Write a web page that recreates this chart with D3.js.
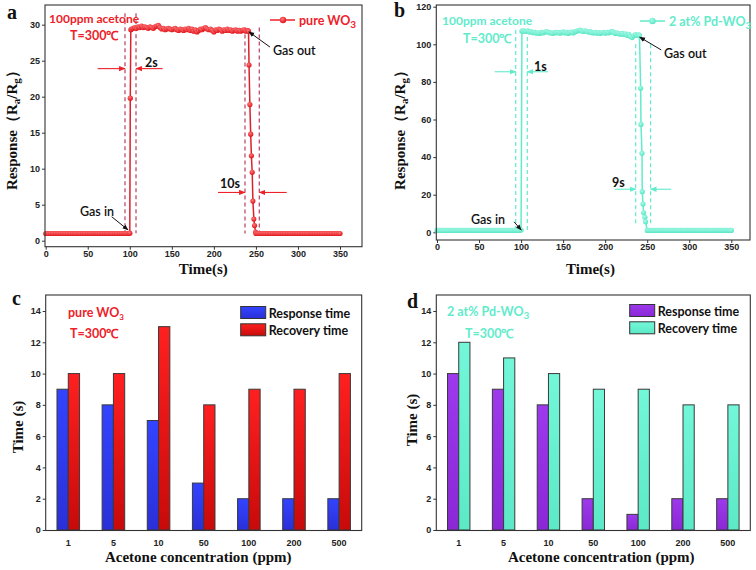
<!DOCTYPE html>
<html><head><meta charset="utf-8">
<script src="https://cdn.jsdelivr.net/npm/d3@7"></script>
<style>body{margin:0;background:#fff}svg{display:block}</style>
</head><body>
<svg id="chart" width="756" height="570"></svg>
<script>
// ---------------- DATA ----------------
const timeBefore = [0,2,4,6,8,10,12,14,16,18,20,22,24,26,28,30,32,34,36,38,40,42,44,46,48,50,52,54,56,58,60,62,64,66,68,70,72,74,76,78,80,82,84,86,88,90,92,94,96,98,100];
const timePlateau = [102,104,106,108,110,112,114,116,118,120,122,124,126,128,130,132,134,136,138,140,142,144,146,148,150,152,154,156,158,160,162,164,166,168,170,172,174,176,178,180,182,184,186,188,190,192,194,196,198,200,202,204,206,208,210,212,214,216,218,220,222,224,226,228,230,232,234,236,238,240];
const timeAfter = [250,252,254,256,258,260,262,264,266,268,270,272,274,276,278,280,282,284,286,288,290,292,294,296,298,300,302,304,306,308,310,312,314,316,318,320,322,324,326,328,330,332,334,336,338,340,342,344,346,348,350];

// panel a: pure WO3
const aBefore = [1,1,1,1,1,1,1,1,1,1,1,1,1,1,1,1,1,1,1,1,1,1,1,1,1,1,1,1,1,1,1,1,1,1,1,1,1,1,1,1,1,1,1,1,1,1,1,1,1,1,1.05];
const aRiseTime = [100.6,101.2];
const aRise = [19.8,29.3];
const aPlateau = [29.4,29.5,29.6,29.5,29.7,29.6,29.8,29.6,29.7,29.6,
  29.5,29.7,29.6,29.5,29.7,29.8,29.9,29.6,29.4,29.5,
  29.3,29.4,29.5,29.4,29.3,29.4,29.5,29.3,29.2,29.4,
  29.3,29.2,29.4,29.3,29.5,29.2,29.4,29.1,29.3,29.0,
  29.2,29.4,29.3,29.5,29.6,29.4,29.3,29.4,29.2,29.0,
  29.3,29.2,29.4,29.3,29.1,29.3,29.2,29.4,29.2,29.3,
  29.1,29.2,29.3,29.1,29.2,29.1,29.2,29.3,29.1,29.2];
const aRecoveryTime = [241.2,241.8,242.8,243.8,244.6,245.6,246.4,247.6,248.4,249.6];
const aRecovery = [29.1,24.4,18.9,14.8,11.8,9.5,5.5,3.0,2.1,1.2];
const aAfter = [1,1,1,1,1,1,1,1,1,1,1,1,1,1,1,1,1,1,1,1,1,1,1,1,1,1,1,1,1,1,1,1,1,1,1,1,1,1,1,1,1,1,1,1,1,1,1,1,1,1,1];

// panel b: 2 at% Pd-WO3
const bBefore = [1,1,1,1,1,1,1,1,1,1,1,1,1,1,1,1,1,1,1,1,1,1,1,1,1,1,1,1,1,1,1,1,1,1,1,1,1,1,1,1,1,1,1,1,1,1,1,1,1,1,1.2];
const bRiseTime = [101.0];
const bRise = [107.0];
const bPlateau = [107.2,107.0,106.8,107.1,106.5,106.8,106.2,106.4,105.9,106.1,
  105.8,106.3,106.0,106.4,106.8,106.5,106.2,106.0,105.8,106.3,
  106.1,106.4,105.9,106.2,106.6,106.0,106.3,105.8,106.2,106.5,
  106.0,106.7,106.9,107.3,107.6,107.1,106.8,107.2,106.9,106.5,
  106.8,106.2,106.0,106.4,105.9,106.2,105.8,106.1,106.3,105.9,
  106.4,106.0,106.5,106.9,106.3,105.8,106.1,105.6,105.4,105.8,
  105.2,105.6,104.8,105.3,104.2,103.6,104.5,105.1,104.8,105.0];
const bRecoveryTime = [240.8,242.2,242.6,243.8,244.1,245.0,245.8,247.3,248.1];
const bRecovery = [104.6,76.6,57.4,42.0,21.6,15.0,10.4,8.0,5.6];
const bAfter = [1,1,1,1,1,1,1,1,1,1,1,1,1,1,1,1,1,1,1,1,1,1,1,1,1,1,1,1,1,1,1,1,1,1,1,1,1,1,1,1,1,1,1,1,1,1,1,1,1,1,1];

// tick labels
const timeTicks = [0,50,100,150,200,250,300,350];
const aYTicks = [0,5,10,15,20,25,30];
const bYTicks = [0,20,40,60,80,100,120];
const barYTicks = [0,2,4,6,8,10,12,14];

// annotations (time s, response)
const aDashTimes = [94.3,107.4,237.0,254.0];
const aDashTop = [31.6,31.6,29.6,29.6];
const aDashBottom = [1.05,1.05,1.0,1.0];
const bDashTimes = [93.6,107.4,236.3,254.0];
const bDashTop = [107.6,107.6,100,100];
const bDashBottom = [1.2,1.2,4,4];

// bar panels
const concentrations = ["1","5","10","50","100","200","500"];
const cResponse = [9,8,7,3,2,2,2];
const cRecovery = [10,10,13,8,9,9,10];
const dResponse = [10,9,8,2,1,2,2];
const dRecovery = [12,11,10,9,9,8,8];

// ---------------- DRAW ----------------
const svg = d3.select("#chart");
const RED = "#ee2128", CYAN = "#62ebcb";
const TICKFONT = "'Liberation Sans', Arial, sans-serif";
const SERIF = "'Liberation Serif', 'Times New Roman', serif";
const LABELFONT = "Lato, 'Open Sans', sans-serif";

const defs = svg.append("defs");
function vGrad(id, top, bottom){
  const g = defs.append("linearGradient").attr("id", id).attr("x1",0).attr("y1",0).attr("x2",0).attr("y2",1);
  g.append("stop").attr("offset","0%").attr("stop-color", top);
  g.append("stop").attr("offset","100%").attr("stop-color", bottom);
}
vGrad("gBlue", "#3344ff", "#2a30d8");
vGrad("gRed", "#ff2020", "#c80a0a");
vGrad("gPurple", "#9c3aec", "#8a28d6");
vGrad("gCyan", "#72f7d9", "#5ce9c6");
function rGrad(id, inner, outer){
  const g = defs.append("radialGradient").attr("id", id).attr("cx","40%").attr("cy","35%").attr("r","65%");
  g.append("stop").attr("offset","0%").attr("stop-color", inner);
  g.append("stop").attr("offset","100%").attr("stop-color", outer);
}
rGrad("mRed", "#ff7a7a", "#e0141c");
rGrad("mCyan", "#a8fbe8", "#58e6c4");
function arrowMarker(id, color){
  defs.append("marker").attr("id", id).attr("viewBox","0 0 10 10").attr("refX",9).attr("refY",5)
    .attr("markerWidth",6).attr("markerHeight",6).attr("orient","auto-start-reverse")
    .append("path").attr("d","M0,1 L10,5 L0,9 z").attr("fill", color);
}
arrowMarker("arRed", RED);
arrowMarker("arCyan", CYAN);
arrowMarker("arBlack", "#111");

function styleAxis(g){
  g.select(".domain").remove();
  g.selectAll(".tick line").attr("stroke","#333").attr("stroke-width",1);
  g.selectAll(".tick text").attr("fill","#222").style("font-family",TICKFONT).style("font-size","9px").style("font-weight","bold");
}
function frame(x0,y0,x1,y1){
  svg.append("rect").attr("x",x0).attr("y",y0).attr("width",x1-x0).attr("height",y1-y0)
    .attr("fill","none").attr("stroke","#333").attr("stroke-width",1.1);
}
function txt(x,y,s,opt){
  const t = svg.append("text").attr("x",x).attr("y",y)
    .style("font-family", opt.font || LABELFONT).style("font-size", (opt.size||12)+"px")
    .style("font-weight", opt.weight||"bold").attr("fill", opt.color||"#111")
    .attr("text-anchor", opt.anchor||"start");
  if (s) t.text(s);
  if (opt.rotate) t.attr("transform", `rotate(-90,${x},${y})`);
  return t;
}
function addSub(t, main, sub, subSize){
  t.append("tspan").text(main);
  t.append("tspan").text(sub).attr("dy", 3).style("font-size", subSize+"px");
}

// ---- line panel ----
function linePanel(cfg){
  const x = d3.scaleLinear().domain([0,350]).range(cfg.xr);
  const y = d3.scaleLinear().domain(cfg.yd).range(cfg.yr);
  const times = timeBefore.concat(cfg.riseTime, timePlateau, cfg.recTime, timeAfter);
  const vals = cfg.before.concat(cfg.rise, cfg.plateau, cfg.rec, cfg.after);
  const pts = times.map((t,i)=>({t, v: vals[i]}));

  svg.append("g").attr("transform",`translate(0,${cfg.frame[3]})`)
    .call(d3.axisBottom(x).tickValues(timeTicks).tickSize(3).tickPadding(1)).call(styleAxis);
  svg.append("g").attr("transform",`translate(${cfg.frame[0]},0)`)
    .call(d3.axisLeft(y).tickValues(cfg.yTicks).tickSize(3).tickPadding(2)).call(styleAxis);

  cfg.dashT.forEach((t,i)=>{
    svg.append("line").attr("x1",x(t)).attr("x2",x(t)).attr("y1",y(cfg.dashTop[i])).attr("y2",y(cfg.dashBottom[i]))
      .attr("stroke",cfg.dashColor).attr("stroke-width",1.2).attr("stroke-dasharray","4,3");
  });

  svg.append("path").datum(pts).attr("fill","none").attr("stroke",cfg.lineColor).attr("stroke-width",1.5)
    .attr("d", d3.line().x(d=>x(d.t)).y(d=>y(d.v)));
  svg.append("g").selectAll("circle").data(pts).join("circle")
    .attr("cx",d=>x(d.t)).attr("cy",d=>y(d.v)).attr("r",2.6).attr("fill",cfg.markerFill);

  cfg.arrows.forEach(a=>{
    svg.append("line").attr("x1",x(a[0])).attr("y1",y(a[2])).attr("x2",x(a[1])).attr("y2",y(a[2]))
      .attr("stroke",cfg.arrowColor).attr("stroke-width",1.1).attr("marker-end",`url(#${cfg.arrowId})`);
  });
  cfg.pointers.forEach(a=>{
    svg.append("line").attr("x1",x(a[0])).attr("y1",y(a[1])).attr("x2",x(a[2])).attr("y2",y(a[3]))
      .attr("stroke","#111").attr("stroke-width",1).attr("marker-end","url(#arBlack)");
  });
  frame(cfg.frame[0], cfg.frame[1], cfg.frame[2], cfg.frame[3]);
  return {x,y};
}

linePanel({
  xr:[45.7,340], yd:[0,30], yr:[240.7,24.7], frame:[45,5,362,246.7], yTicks:aYTicks,
  before:aBefore, riseTime:aRiseTime, rise:aRise, plateau:aPlateau, recTime:aRecoveryTime, rec:aRecovery, after:aAfter,
  lineColor:"#d9222c", markerFill:"url(#mRed)", dashColor:"#b8405e",
  dashT:aDashTimes, dashTop:aDashTop, dashBottom:aDashBottom,
  arrowColor:RED, arrowId:"arRed",
  arrows:[[61.8,94.3,23.9],[139,107.4,23.9],[204.9,237,6.7],[286.6,254,6.7]],
  pointers:[[266.7,26.9,241.7,29.0],[78.5,3.33,97.9,1.5]]
});
linePanel({
  xr:[437,731.3], yd:[0,100], yr:[232.3,44.3], frame:[436.3,5,750,240], yTicks:bYTicks,
  before:bBefore, riseTime:bRiseTime, rise:bRise, plateau:bPlateau, recTime:bRecoveryTime, rec:bRecovery, after:bAfter,
  lineColor:CYAN, markerFill:"url(#mCyan)", dashColor:CYAN,
  dashT:bDashTimes, dashTop:bDashTop, dashBottom:bDashBottom,
  arrowColor:CYAN, arrowId:"arCyan",
  arrows:[[68.6,93.6,85.4],[132,107.4,85.4],[211.3,236.3,22.9],[278.6,254,22.9]],
  pointers:[[266.7,97,241,103.8],[91.6,5.6,100.2,1.2]]
});

// panel a texts
txt(49,23,"100ppm acetone",{color:RED,size:12});
txt(70,40,"T=300℃",{color:RED,size:12.5});
svg.append("line").attr("x1",270).attr("x2",295).attr("y1",20).attr("y2",20).attr("stroke",RED).attr("stroke-width",1.5);
svg.append("circle").attr("cx",283).attr("cy",20).attr("r",3.2).attr("fill","url(#mRed)");
addSub(txt(299,25,"",{color:RED,size:12.5}),"pure WO","3",10);
txt(273,55,"Gas out",{size:12.5,weight:"600"});
txt(145,67,"2s",{size:12.5});
txt(220,188,"10s",{size:12.5});
txt(80,216,"Gas in",{size:12.5,weight:"600"});
// panel b texts
txt(442,25,"100ppm acetone",{color:CYAN,size:12});
txt(463,43,"T=300℃",{color:CYAN,size:12.5});
svg.append("line").attr("x1",640).attr("x2",665).attr("y1",21).attr("y2",21).attr("stroke",CYAN).attr("stroke-width",1.5);
svg.append("circle").attr("cx",652.5).attr("cy",21).attr("r",3.2).attr("fill","url(#mCyan)");
addSub(txt(669,26,"",{color:CYAN,size:12.5}),"2 at% Pd-WO","3",10);
txt(664,58,"Gas out",{size:12.5,weight:"600"});
txt(534,71,"1s",{size:12.5});
txt(612,187,"9s",{size:12.5});
txt(471,224,"Gas in",{size:12.5,weight:"600"});

txt(203.3,274,"Time(s)",{font:SERIF,size:15,anchor:"middle"});
txt(590.5,274,"Time(s)",{font:SERIF,size:15,anchor:"middle"});
function respTitle(x,y){
  const t = txt(x,y,"",{font:SERIF,size:15,anchor:"middle",rotate:true});
  t.append("tspan").text("Response（R");
  t.append("tspan").text("a").attr("dy",3).style("font-size","11px");
  t.append("tspan").text("/R").attr("dy",-3);
  t.append("tspan").text("g").attr("dy",3).style("font-size","11px");
  t.append("tspan").text("）").attr("dy",-3);
}
respTitle(17,126.7);
respTitle(405,126.5);

txt(7,19,"a",{font:SERIF,size:20});
txt(394,17,"b",{font:SERIF,size:20});
txt(12,305,"c",{font:SERIF,size:20});
txt(407,308,"d",{font:SERIF,size:20});

// ---- bar panels ----
function barPanel(cfg){
  const x = d3.scaleBand().domain(concentrations).range([cfg.frame[0],cfg.frame[2]]).paddingInner(0).paddingOuter(0);
  const y = d3.scaleLinear().domain([0,14]).range([530,311]);
  const inner = d3.scaleBand().domain(["resp","rec"]).range([0, x.bandwidth()*0.5]).padding(0);
  const off = x.bandwidth()*0.25;
  svg.append("g").attr("transform",`translate(0,${cfg.frame[3]})`)
    .call(d3.axisBottom(x).tickSize(0).tickPadding(9)).call(styleAxis);
  svg.append("g").attr("transform",`translate(${cfg.frame[0]},0)`)
    .call(d3.axisLeft(y).tickValues(barYTicks).tickSize(3).tickPadding(2)).call(styleAxis);
  const series = [["resp",cfg.resp,cfg.c1],["rec",cfg.rec,cfg.c2]];
  series.forEach(([k,vals,fill])=>{
    svg.append("g").selectAll("rect").data(vals).join("rect")
      .attr("x",(d,i)=>x(concentrations[i])+off+inner(k)).attr("width",inner.bandwidth())
      .attr("y",d=>y(d)).attr("height",d=>y(0)-y(d))
      .attr("fill",fill).attr("stroke","#3a3a3a").attr("stroke-width",1);
  });
  frame(cfg.frame[0],cfg.frame[1],cfg.frame[2],cfg.frame[3]);
  cfg.leg.forEach((l,i)=>{
    svg.append("rect").attr("x",l[0]).attr("y",l[1]).attr("width",25).attr("height",12).attr("fill",i?cfg.c2:cfg.c1)
      .attr("stroke","#333").attr("stroke-width",1);
    txt(l[0]+28,l[1]+11,i?"Recovery time":"Response time",{size:12.5,weight:"bold"});
  });
}
barPanel({frame:[45.7,295,361.7,530.5], resp:cResponse, rec:cRecovery, c1:"url(#gBlue)", c2:"url(#gRed)",
  leg:[[240.7,306.5],[240.7,323.8]]});
barPanel({frame:[436.3,295,750.3,530.5], resp:dResponse, rec:dRecovery, c1:"url(#gPurple)", c2:"url(#gCyan)",
  leg:[[629.7,304.5],[629.7,321.8]]});

addSub(txt(68,317,"",{color:RED,size:12.5}),"pure WO","3",8);
txt(70,338,"T=300℃",{color:RED,size:12.5});
addSub(txt(447,316,"",{color:CYAN,size:12.5}),"2 at% Pd-WO","3",10);
txt(465,338,"T=300℃",{color:CYAN,size:12.5});

txt(198.3,562,"Acetone concentration (ppm)",{font:SERIF,size:15,anchor:"middle"});
txt(601.3,562,"Acetone concentration (ppm)",{font:SERIF,size:15,anchor:"middle"});
txt(23,427,"Time (s)",{font:SERIF,size:15,anchor:"middle",rotate:true});
txt(417,420,"Time (s)",{font:SERIF,size:15,anchor:"middle",rotate:true});
</script>
</body></html>
